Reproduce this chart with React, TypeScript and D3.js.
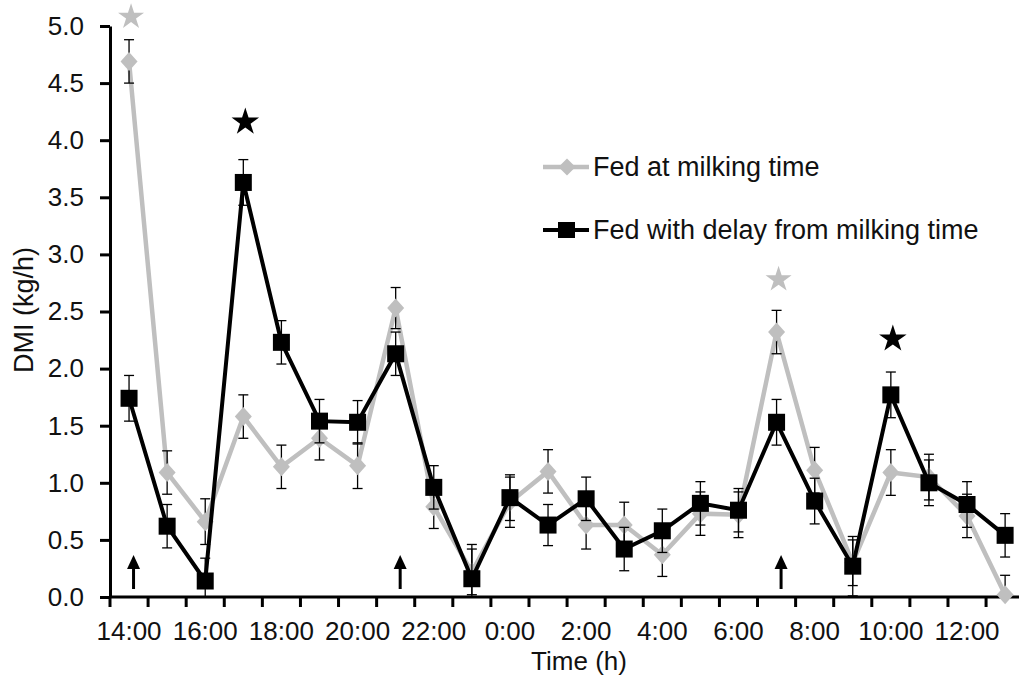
import React, { useRef, useEffect } from 'react';
import * as d3 from 'd3';

// hourly categories, 14:00 through 13:00 the next day
const hours = [
  '14:00', '15:00', '16:00', '17:00', '18:00', '19:00', '20:00', '21:00',
  '22:00', '23:00', '0:00', '1:00', '2:00', '3:00', '4:00', '5:00',
  '6:00', '7:00', '8:00', '9:00', '10:00', '11:00', '12:00', '13:00',
];
const tickLabels = ['14:00', '16:00', '18:00', '20:00', '22:00', '0:00', '2:00', '4:00', '6:00', '8:00', '10:00', '12:00'];
const yTicks = [0, 0.5, 1, 1.5, 2, 2.5, 3, 3.5, 4, 4.5, 5];

const fedAtMilking = [4.69, 1.09, 0.66, 1.58, 1.14, 1.39, 1.15, 2.53, 0.79, 0.22, 0.83, 1.10, 0.63, 0.63, 0.37, 0.73, 0.72, 2.32, 1.11, 0.30, 1.09, 1.05, 0.71, 0.02];
const fedAtMilkingErr = [0.19, 0.19, 0.2, 0.19, 0.19, 0.19, 0.2, 0.18, 0.19, 0.2, 0.22, 0.19, 0.21, 0.2, 0.19, 0.19, 0.2, 0.19, 0.2, 0.2, 0.2, 0.2, 0.19, 0.17];
const fedDelayed = [1.74, 0.62, 0.14, 3.63, 2.23, 1.54, 1.53, 2.13, 0.96, 0.16, 0.87, 0.63, 0.86, 0.42, 0.58, 0.82, 0.76, 1.53, 0.84, 0.27, 1.77, 1.00, 0.81, 0.54];
const fedDelayedErr = [0.2, 0.19, 0.2, 0.2, 0.19, 0.19, 0.19, 0.19, 0.19, 0.3, 0.2, 0.18, 0.19, 0.19, 0.19, 0.19, 0.19, 0.2, 0.2, 0.26, 0.2, 0.2, 0.2, 0.19];

// significance stars and milking arrows
const starHours = ['14:00', '17:00', '7:00', '10:00'];
const starValues = [5.08, 4.16, 2.78, 2.26];
const starSeries = ['gray', 'black', 'gray', 'black'];
const milkingHours = ['14:00', '21:00', '7:00'];

const GRAY = '#bfbfbf';
const FONT = '"Liberation Sans", Arial, sans-serif';

export default function App() {
  const ref = useRef<SVGSVGElement>(null);

  useEffect(() => {
    if (!ref.current) return;
    const svg = d3.select(ref.current);
    svg.selectAll('*').remove();

    const left = 110, bottom = 597, top = 26, step = 38.09;
    const x = d3.scaleBand().domain(hours).range([left, left + step * hours.length]).padding(0);
    const y = d3.scaleLinear().domain([0, 5]).range([bottom, top]);
    const cx = (h: string) => (x(h) || 0) + x.bandwidth() / 2;

    // y axis
    const yAxis = svg.append('g').attr('transform', `translate(${left},0)`)
      .call(d3.axisLeft(y).tickValues(yTicks).tickFormat(d3.format('.1f')).tickSize(10).tickSizeOuter(0).tickPadding(16));
    yAxis.select('.domain').attr('stroke-width', 3);
    yAxis.selectAll('.tick line').attr('stroke-width', 3);
    yAxis.selectAll('.tick text').attr('font-size', 26).attr('font-family', FONT).attr('fill', '#111');

    // x axis: ticks at category boundaries
    const gx = svg.append('g');
    gx.append('line').attr('x1', left).attr('x2', left + step * hours.length)
      .attr('y1', bottom).attr('y2', bottom).attr('stroke', '#000').attr('stroke-width', 3);
    hours.concat(['end']).forEach((h, i) => {
      const xp = i < hours.length ? (x(h) || 0) : left + step * hours.length;
      gx.append('line').attr('x1', xp).attr('x2', xp).attr('y1', bottom).attr('y2', bottom + 10)
        .attr('stroke', '#000').attr('stroke-width', 3);
    });
    tickLabels.forEach(h => {
      gx.append('text').attr('x', cx(h)).attr('y', 640).attr('text-anchor', 'middle')
        .attr('font-size', 26).attr('font-family', FONT).attr('fill', '#111').text(h);
    });

    svg.append('text').attr('x', 579).attr('y', 670).attr('text-anchor', 'middle')
      .attr('font-size', 26).attr('font-family', FONT).attr('fill', '#111').text('Time (h)');
    svg.append('text').attr('transform', 'translate(33,310) rotate(-90)').attr('text-anchor', 'middle')
      .attr('font-size', 27).attr('font-family', FONT).attr('fill', '#111').text('DMI (kg/h)');

    const line = d3.line<number>().x((_, i) => cx(hours[i])).y(d => y(d));

    const drawSeries = (vals: number[], errs: number[], color: string, width: number, marker: 'diamond' | 'square') => {
      svg.append('path').datum(vals).attr('fill', 'none').attr('stroke', color)
        .attr('stroke-width', width).attr('stroke-linejoin', 'miter').attr('d', line);
      const eb = svg.append('g').attr('stroke', '#000').attr('stroke-width', 1.3);
      vals.forEach((v, i) => {
        const xp = cx(hours[i]);
        const y1 = y(v + errs[i]), y2 = y(Math.max(0, v - errs[i]));
        eb.append('line').attr('x1', xp).attr('x2', xp).attr('y1', y1).attr('y2', y2);
        eb.append('line').attr('x1', xp - 5).attr('x2', xp + 5).attr('y1', y1).attr('y2', y1);
        if (v - errs[i] > 0) eb.append('line').attr('x1', xp - 5).attr('x2', xp + 5).attr('y1', y2).attr('y2', y2);
      });
      vals.forEach((v, i) => {
        const xp = cx(hours[i]), yp = y(v);
        if (marker === 'diamond') {
          svg.append('path').attr('d', `M${xp},${yp - 9.5}L${xp + 8.5},${yp}L${xp},${yp + 9.5}L${xp - 8.5},${yp}Z`).attr('fill', color);
        } else {
          svg.append('rect').attr('x', xp - 8.5).attr('y', yp - 8.5).attr('width', 17).attr('height', 17).attr('fill', color);
        }
      });
    };

    drawSeries(fedAtMilking, fedAtMilkingErr, GRAY, 4.5, 'diamond');
    drawSeries(fedDelayed, fedDelayedErr, '#000', 4, 'square');

    // stars
    starHours.forEach((h, i) => {
      svg.append('path')
        .attr('d', d3.symbol().type(d3.symbolStar).size(starSeries[i] === 'gray' ? 210 : 235)())
        .attr('transform', `translate(${cx(h) + 2},${y(starValues[i])})`)
        .attr('fill', starSeries[i] === 'gray' ? GRAY : '#000');
    });

    // milking arrows
    milkingHours.forEach(h => {
      const xp = cx(h) + 4.5;
      svg.append('line').attr('x1', xp).attr('x2', xp).attr('y1', 589).attr('y2', 566)
        .attr('stroke', '#000').attr('stroke-width', 3);
      svg.append('path').attr('d', `M${xp},555L${xp + 6.5},569L${xp - 6.5},569Z`).attr('fill', '#000');
    });

    // legend
    const lg = svg.append('g');
    lg.append('line').attr('x1', 543).attr('x2', 589).attr('y1', 167).attr('y2', 167).attr('stroke', GRAY).attr('stroke-width', 4.5);
    lg.append('path').attr('d', 'M567,158.5L575.5,167L567,175.5L558.5,167Z').attr('fill', GRAY);
    lg.append('text').attr('x', 593).attr('y', 176).attr('font-size', 27).attr('font-family', FONT).attr('fill', '#111').text('Fed at milking time');
    lg.append('line').attr('x1', 543).attr('x2', 589).attr('y1', 230).attr('y2', 230).attr('stroke', '#000').attr('stroke-width', 4);
    lg.append('rect').attr('x', 558).attr('y', 222).attr('width', 17).attr('height', 16).attr('fill', '#000');
    lg.append('text').attr('x', 593).attr('y', 239).attr('font-size', 27).attr('font-family', FONT).attr('fill', '#111').text('Fed with delay from milking time');
  }, []);

  return (
    <svg ref={ref} width={1019} height={678}
      style={{ position: 'absolute', left: 0, top: 0, background: '#fff', display: 'block' }} />
  );
}
